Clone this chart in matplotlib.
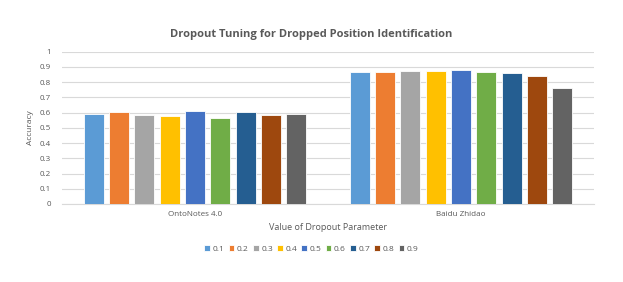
import matplotlib.pyplot as plt
import numpy as np

plt.rcParams['font.family'] = ['Open Sans', 'DejaVu Sans']

datasets = ['OntoNotes 4.0', 'Baidu Zhidao']
dropout = ['0.1', '0.2', '0.3', '0.4', '0.5', '0.6', '0.7', '0.8', '0.9']
onto_acc = [0.593, 0.604, 0.586, 0.580, 0.610, 0.567, 0.604, 0.584, 0.591]
baidu_acc = [0.869, 0.869, 0.875, 0.873, 0.880, 0.864, 0.858, 0.842, 0.759]
colors = ['#5B9BD5', '#ED7D31', '#A5A5A5', '#FFC000', '#4472C4',
          '#70AD47', '#255E91', '#9E480E', '#636363']

fig = plt.figure(figsize=(6.23, 2.82), dpi=100)
ax = fig.add_axes([62 / 623, 1 - 204 / 282, (594 - 62) / 623, (204 - 51.7) / 282])

x = np.arange(len(datasets))
n = len(dropout)
step = 0.0951
width = 0.0752
for i, (lab, c) in enumerate(zip(dropout, colors)):
    vals = [onto_acc[i], baidu_acc[i]]
    ax.bar(x + (i - (n - 1) / 2) * step, vals, width, color=c, label=lab,
           edgecolor='white', linewidth=0.6, zorder=3)

ax.set_xlim(-0.5, 1.5)
ax.set_ylim(0, 1)
ax.set_yticks(np.arange(0, 1.01, 0.1))
ax.set_yticklabels(['0', '0.1', '0.2', '0.3', '0.4', '0.5', '0.6', '0.7', '0.8', '0.9', '1'])
ax.set_xticks(x)
ax.set_xticklabels(datasets)
ax.tick_params(axis='both', length=0, labelsize=5.8, colors='#595959')
ax.tick_params(axis='y', pad=8)
ax.tick_params(axis='x', pad=5)
ax.grid(axis='y', color='#D9D9D9', linewidth=0.8, zorder=0)
for s in ['top', 'right', 'left']:
    ax.spines[s].set_visible(False)
ax.spines['bottom'].set_color('#D9D9D9')

ax.set_ylabel('Accuracy', fontsize=6, color='#595959', labelpad=4)
ax.set_xlabel('Value of Dropout Parameter', fontsize=6.5, color='#595959', labelpad=4)
fig.text(0.5, 1 - 34 / 282, 'Dropout Tuning for Dropped Position Identification',
         ha='center', va='center', fontsize=8, color='#595959', fontweight='bold')

fig.legend(loc='center', bbox_to_anchor=(0.5, 1 - 249 / 282), ncol=9, frameon=False,
           fontsize=6, handlelength=0.7, handleheight=0.7, handletextpad=0.3,
           columnspacing=0.5, labelcolor='#595959')

fig.savefig('out.png', dpi=100)
